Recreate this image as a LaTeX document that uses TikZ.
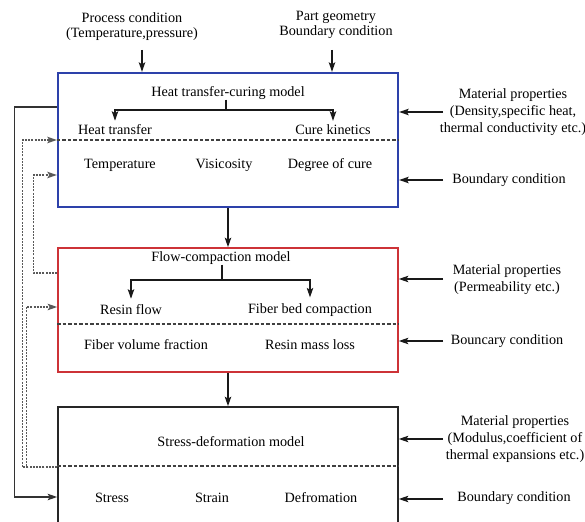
\documentclass[tikz,border=0pt]{standalone}
\usepackage{fontspec}
\setmainfont{Liberation Serif}
\usetikzlibrary{arrows.meta}
\definecolor{boxblue}{RGB}{45,65,170}
\definecolor{boxred}{RGB}{205,50,55}
\begin{document}
\begin{tikzpicture}[x=1pt,y=-1pt,
  lbl/.style={font=\fontsize{14.2}{16.8}\selectfont, inner sep=0pt, align=center},
  toplbl/.style={font=\fontsize{14.2}{15}\selectfont, inner sep=0pt, align=center},
  model/.style={draw, minimum width=340pt, inner sep=0pt},
  tipstyle/.style={-{Stealth[length=9.5pt,width=6.5pt,inset=2pt]}},
  arr/.style={tipstyle, line width=1.1pt, black!90},
  plainline/.style={line width=1.1pt, black!90},
  sepline/.style={line width=1.2pt, dash pattern=on 3.5pt off 2pt, black!75},
  fb/.style={line width=1.2pt, dash pattern=on 2pt off 1.2pt, black!65},
  fbarr/.style={fb, tipstyle},
  loopline/.style={line width=1.1pt, black!80, tipstyle},
]
\useasboundingbox (0,0) rectangle (585,521);
\clip (0,0) rectangle (585,521);

% model boxes
\node[model, draw=boxblue, line width=2.4pt, minimum height=134pt] (heat) at (228,140) {};
\node[model, draw=boxred, line width=1.7pt, minimum height=124pt] (flow) at (228,310) {};
\node[model, draw=black!85, line width=1.7pt, minimum height=133pt] (stress) at (228,473.5) {};

% top inputs
\node[toplbl] (proc) at (132,26.5) {Process condition\\(Temperature,pressure)};
\node[toplbl] (geom) at (336,25) {Part geometry\\Boundary condition};
\coordinate (procin) at (142,50);
\coordinate (geomin) at (332,50);
\draw[arr] (procin) -- (procin |- heat.north);
\draw[arr] (geomin) -- (geomin |- heat.north);

% heat transfer-curing model
\node[lbl] (htc) at (228,93) {Heat transfer-curing model};
\node[lbl] (ht) at (115,130) {Heat transfer};
\node[lbl] (ck) at (333,130) {Cure kinetics};
\coordinate (htj) at (226,110);
\draw[plainline] (htc.south -| htj) -- (htj);
\draw[arr] (htj) -| ([yshift=4pt]ht.north);
\draw[arr] (htj) -| ([yshift=4pt]ck.north);
\draw[sepline] (heat.west |- 0,140) -- (heat.east |- 0,140);
\node[lbl] (temp) at (120,165) {Temperature};
\node[lbl] (visc) at (224,165) {Visicosity};
\node[lbl] (doc) at (330,165) {Degree of cure};

\node[lbl] (mp1) at (513,112) {Material properties\\(Density,specific heat,\\thermal conductivity etc.)};
\node[lbl] (bc1) at (509,180) {Boundary condition};
\coordinate (mp1s) at (443,112);
\coordinate (bc1s) at (443,180);
\draw[arr] (mp1s) -- (mp1s -| heat.east);
\draw[arr] (bc1s) -- (bc1s -| heat.east);

% flow-compaction model
\draw[arr] (heat.south) -- (flow.north);
\node[lbl] (fcm) at (221,258) {Flow-compaction model};
\node[lbl] (rf) at (131,310) {Resin flow};
\node[lbl] (fbc) at (310,310) {Fiber bed compaction};
\coordinate (fcj) at (222,280);
\draw[plainline] (fcm.south -| fcj) -- (fcj);
\draw[arr] (fcj) -| ([yshift=6pt]rf.north);
\draw[arr] (fcj) -| ([yshift=6pt]fbc.north);
\draw[sepline] (flow.west |- 0,324) -- (flow.east |- 0,324);
\node[lbl] (fvf) at (146,345) {Fiber volume fraction};
\node[lbl] (rml) at (310,345) {Resin mass loss};

\node[lbl] (mp2) at (507,280) {Material properties\\(Permeability etc.)};
\node[lbl] (bc2) at (507,341) {Bouncary condition};
\coordinate (mp2s) at (443,279);
\coordinate (bc2s) at (443,341);
\draw[arr] (mp2s) -- (mp2s -| flow.east);
\draw[arr] (bc2s) -- (bc2s -| flow.east);

% stress-deformation model
\draw[arr] (flow.south) -- (stress.north);
\node[lbl] (sdm) at (231,442) {Stress-deformation model};
\draw[sepline] (stress.west |- 0,466) -- (stress.east |- 0,466);
\node[lbl] (str) at (112,498) {Stress};
\node[lbl] (stn) at (212,498) {Strain};
\node[lbl] (def) at (321,498) {Defromation};

\node[lbl] (mp3) at (515,439) {Material properties\\(Modulus,coefficient of\\thermal expansions etc.)};
\node[lbl] (bc3) at (514,498) {Boundary condition};
\coordinate (mp3s) at (443,439);
\coordinate (bc3s) at (443,499);
\draw[arr] (mp3s) -- (mp3s -| stress.east);
\draw[arr] (bc3s) -- (bc3s -| stress.east);

% feedback connectors on the left
\coordinate (hL1) at (heat.west |- 0,107);
\coordinate (sL1) at (stress.west |- 0,497);
\draw[loopline] (hL1) -- ++(-42,0) |- (sL1);

\coordinate (sSep) at (stress.west |- 0,467);
\coordinate (hSep) at (heat.west |- 0,140);
\coordinate (fL1) at (flow.west |- 0,307);
\coordinate (fL2) at (flow.west |- 0,273);
\coordinate (hL2) at (heat.west |- 0,175);
\draw[fbarr] (sSep) -- ++(-35,0) |- (hSep);
\draw[fbarr] (sSep) -- ++(-31,0) |- (fL1);
\draw[fbarr] (fL2) -- ++(-24,0) |- (hL2);
\end{tikzpicture}
\end{document}
